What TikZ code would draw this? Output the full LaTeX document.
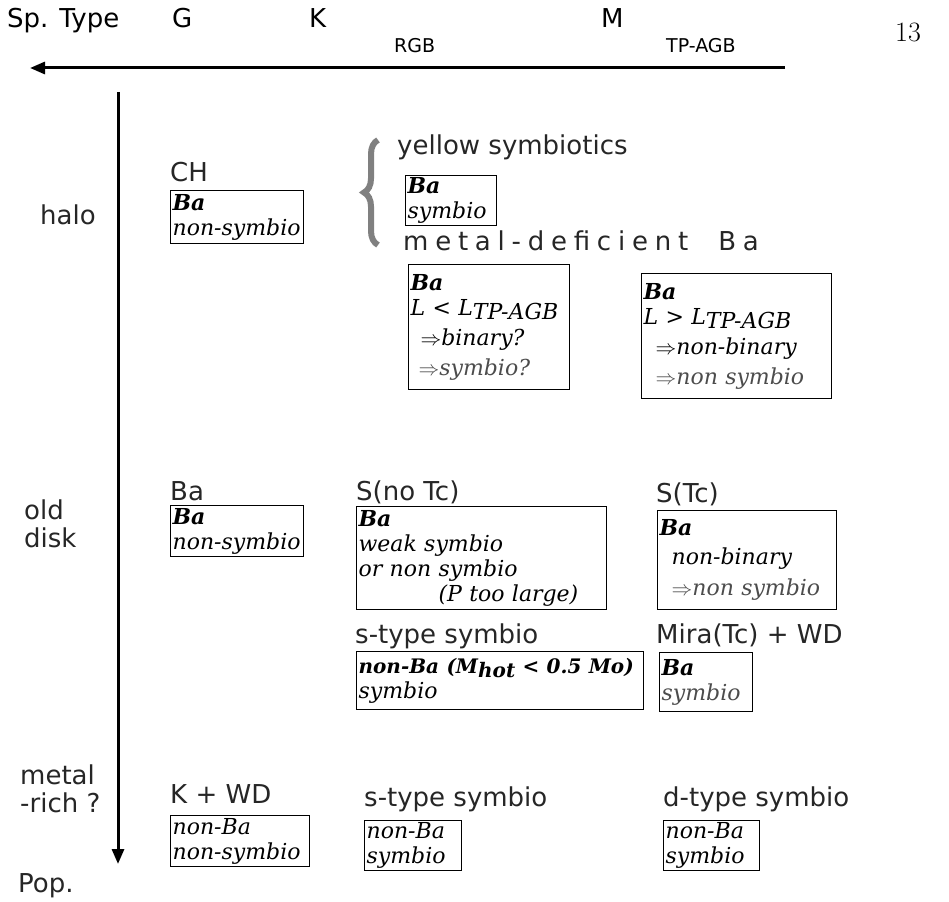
\documentclass[tikz,border=0pt]{standalone}
\usepackage{fontspec}
\setsansfont{DejaVu Sans}
\newfontfamily\boxfont{DejaVu Serif}
\usetikzlibrary{positioning,arrows.meta,decorations.pathreplacing}

\begin{document}
\begin{tikzpicture}[x=1pt, y=-1pt,
    lbl/.style = {font=\sffamily\fontsize{26}{30}\selectfont, anchor=base west, inner sep=0pt, text=black!85},
    sml/.style = {font=\sffamily\fontsize{19}{22}\selectfont, anchor=base west, inner sep=0pt},
    box/.style = {draw, line width=1.2pt, anchor=north west, align=left, inner sep=2pt,
                  font=\boxfont\itshape\fontsize{22}{25}\selectfont,
                  execute at begin node={\hyphenpenalty=10000\exhyphenpenalty=10000}},
    axis/.style = {line width=3pt, -{Triangle[length=15pt, width=12pt]}},
    dim/.style = {text=black!70}]
    \useasboundingbox (0,0) rectangle (949,901);

    % spectral type axis
    \node[lbl, text=black] (sp)  at (7,28)   {Sp. Type};
    \node[lbl, text=black] (g)   at (172,28) {G};
    \node[lbl, text=black] (k)   at (309,28) {K};
    \node[lbl, text=black] (m)   at (601,28) {M};
    \node[sml] (rgb)   at (394,53) {RGB};
    \node[sml] (tpagb) at (666,53) {TP-AGB};
    \node[anchor=base west, inner sep=0pt, font=\fontsize{28}{30}\selectfont] (pg) at (895,42) {13};
    \coordinate (sp0) at (785,68);
    \coordinate (sp1) at (30,68);
    \draw[axis] (sp0) -- (sp1);

    % population axis
    \coordinate (pop0) at (118,92);
    \coordinate (pop1) at (118,864);
    \draw[axis] (pop0) -- (pop1);
    \node[lbl] (halo)  at (40,225)  {halo};
    \node[lbl, align=left, anchor=north west, font=\sffamily\fontsize{26}{28}\selectfont] (old) at (24,500) {old\\disk};
    \node[lbl, align=left, anchor=north west, font=\sffamily\fontsize{26}{28}\selectfont] (rich) at (20,765) {metal\\-rich ?};
    \node[lbl] (pop)   at (18,892)  {Pop.};

    % halo
    \node[lbl] (ch) at (170,182) {CH};
    \node[box, text width=129pt, minimum height=53pt] (chb) at (170,190)
        {\textbf{Ba}\\non-symbio};
    \draw[black!50, line width=6pt, decorate, decoration={brace, amplitude=14pt}]
        (378,245) -- (378,140);
    \node[lbl] (ys) at (397,155) {yellow symbiotics};
    \node[box, text width=87pt, minimum height=50pt] (ysb) at (405,175)
        {\textbf{Ba}\\symbio};
    \node[lbl] (md) at (403,250) {\addfontfeature{LetterSpace=26}metal-deficient\ \ Ba};
    \node[box, text width=157pt, minimum height=125pt] (mdl) at (408,264)
        {\textbf{Ba}\\L~<~L\raisebox{-4pt}{TP-AGB}\\[5pt]
         \hspace*{10pt}$\Rightarrow$binary?\\[5pt]
         \hspace*{8pt}{\color{black!70}$\Rightarrow$symbio?}};
    \node[box, text width=186pt, minimum height=125pt] (mdh) at (641,273)
        {\textbf{Ba}\\L~>~L\raisebox{-4pt}{TP-AGB}\\[5pt]
         \hspace*{12pt}$\Rightarrow$non-binary\\[5pt]
         \hspace*{12pt}{\color{black!70}$\Rightarrow$non~symbio}};

    % old disk
    \node[lbl] (ba) at (170,500) {Ba};
    \node[box, text width=129pt, minimum height=51pt] (bab) at (170,505)
        {\textbf{Ba}\\non-symbio};
    \node[lbl] (snotc) at (356,500) {S(no Tc)};
    \node[box, text width=246pt, minimum height=103pt] (snotcb) at (356,506)
        {\textbf{Ba}\\weak symbio\\or non symbio\\\hspace*{80pt}(P~too~large)};
    \node[lbl] (stc) at (656,502) {S(Tc)};
    \node[box, text width=175pt, minimum height=99pt] (stcb) at (657,510)
        {\textbf{Ba}\\[4pt]\hspace*{12pt}non-binary\\[6pt]
         \hspace*{12pt}{\color{black!70}$\Rightarrow$non~symbio}};
    \node[lbl] (sts) at (355,643) {s-type symbio};
    \node[box, text width=283pt, minimum height=58pt] (stsb) at (356,651)
        {{\fontsize{20}{25}\selectfont\textbf{non-Ba~(M\raisebox{-4pt}{hot}~<~0.5~Mo)}}\\symbio};
    \node[lbl] (mira) at (656,643) {Mira(Tc) + WD};
    \node[box, text width=89pt, minimum height=59pt] (mirab) at (659,652)
        {\textbf{Ba}\\{\color{black!70}symbio}};

    % metal-rich
    \node[lbl] (kwd) at (170,803) {K + WD};
    \node[box, text width=135pt, minimum height=51pt] (kwdb) at (170,815)
        {non-Ba\\non-symbio};
    \node[lbl] (sts2) at (364,806) {s-type symbio};
    \node[box, text width=93pt, minimum height=49pt] (sts2b) at (364,820)
        {non-Ba\\symbio};
    \node[lbl] (dts) at (663,806) {d-type symbio};
    \node[box, text width=92pt, minimum height=49pt] (dtsb) at (663,820)
        {non-Ba\\symbio};
\end{tikzpicture}
\end{document}
